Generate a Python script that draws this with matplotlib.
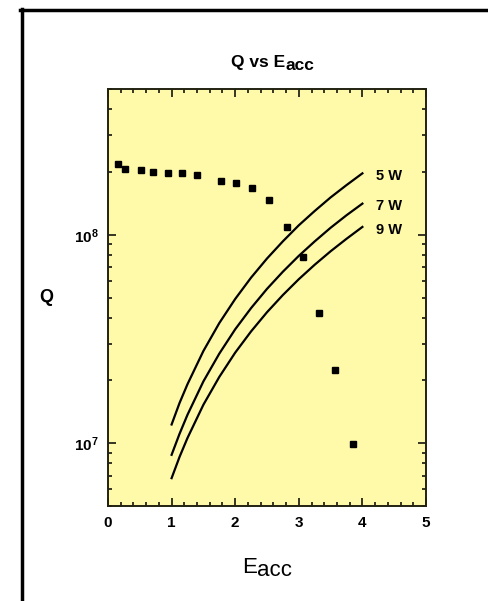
import matplotlib
matplotlib.use("Agg")
import matplotlib.pyplot as plt
from matplotlib.lines import Line2D
from matplotlib.ticker import MultipleLocator, LogLocator

plt.rcParams['font.family'] = ['Liberation Sans', 'DejaVu Sans']

# measured points
e_meas = [0.15, 0.27, 0.52, 0.71, 0.94, 1.17, 1.40, 1.77, 2.02, 2.27,
          2.53, 2.81, 3.06, 3.31, 3.57, 3.85]
q_meas = [2.18e8, 2.07e8, 2.05e8, 2.00e8, 1.97e8, 1.97e8, 1.93e8, 1.81e8,
          1.78e8, 1.67e8, 1.47e8, 1.09e8, 7.85e7, 4.22e7, 2.25e7, 9.9e6]

# constant power curves
e_curve = [1.0, 1.125, 1.25, 1.5, 1.75, 2.0, 2.25, 2.5, 2.75, 3.0, 3.25, 3.5, 3.75, 4.0]
q_5w = [1.23e7, 1.56e7, 1.92e7, 2.77e7, 3.77e7, 4.92e7, 6.23e7, 7.69e7,
        9.30e7, 1.11e8, 1.30e8, 1.51e8, 1.73e8, 1.97e8]
q_7w = [8.8e6, 1.11e7, 1.37e7, 1.98e7, 2.69e7, 3.52e7, 4.45e7, 5.50e7,
        6.65e7, 7.92e7, 9.29e7, 1.08e8, 1.24e8, 1.41e8]
q_9w = [6.8e6, 8.6e6, 1.06e7, 1.53e7, 2.08e7, 2.72e7, 3.44e7, 4.25e7,
        5.14e7, 6.12e7, 7.18e7, 8.33e7, 9.56e7, 1.09e8]
curve_labels = ['5 W', '7 W', '9 W']

W, H = 488, 601
fig = plt.figure(figsize=(W / 100, H / 100), dpi=100)
ax = fig.add_axes([108 / W, 1 - 506 / H, 318 / W, 417 / H])
ax.set_facecolor('#fff9aa')

ax.plot(e_meas, q_meas, 's', color='black', markersize=4.5)
for q, lab in zip([q_5w, q_7w, q_9w], curve_labels):
    ax.plot(e_curve, q, color='black', lw=1.6)
    ax.text(4.21, q[-1] * 0.97, lab, fontsize=10.5, fontweight='bold',
            ha='left', va='center')

ax.set_yscale('log')
ax.set_xlim(0, 5)
ax.set_ylim(5e6, 5e8)
ax.xaxis.set_major_locator(MultipleLocator(1))
ax.xaxis.set_minor_locator(MultipleLocator(0.2))
ax.yaxis.set_major_locator(LogLocator(base=10))
ax.yaxis.set_minor_locator(LogLocator(base=10, subs=range(2, 10)))
ax.tick_params(which='both', direction='in', top=True, right=True, width=1.1)
ax.tick_params(which='major', length=6, labelsize=11, pad=7)
ax.tick_params(which='minor', length=3)
for t in ax.get_xticklabels() + ax.get_yticklabels():
    t.set_fontweight('bold')
for s in ax.spines.values():
    s.set_linewidth(1.4)
    s.set_color('#222211')

# titles with lowered "acc"
fig.text(285 / W, 1 - 67 / H, 'Q vs E', fontsize=12.5, fontweight='bold',
         ha='right', va='baseline')
fig.text(285 / W, 1 - 70 / H, 'acc', fontsize=12.5, fontweight='bold',
         ha='left', va='baseline')
fig.text(257 / W, 1 - 573 / H, 'E', fontsize=16, ha='right', va='baseline')
fig.text(257 / W, 1 - 576 / H, 'acc', fontsize=16, ha='left', va='baseline')
fig.text(46 / W, 1 - 298 / H, 'Q', fontsize=13, fontweight='bold',
         ha='center', va='center')

# frame of the screenshot
fig.add_artist(Line2D([21.5 / W, 21.5 / W], [0, 1 - 8.5 / H], color='black', lw=2.5))
fig.add_artist(Line2D([20 / W, 1], [1 - 9.5 / H, 1 - 9.5 / H], color='black', lw=2.5))

fig.savefig('out.png', dpi=100)
